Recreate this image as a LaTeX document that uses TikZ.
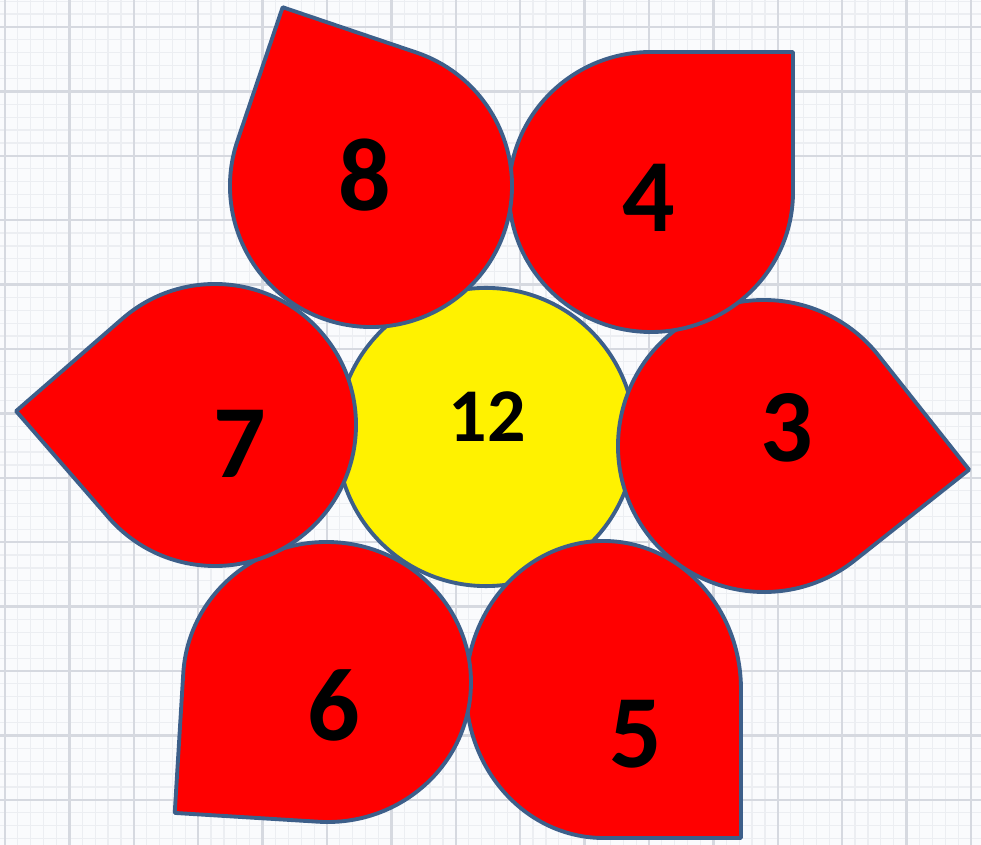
\documentclass[tikz,border=0pt]{standalone}
\usepackage{fontspec}
\setmainfont{Carlito}
\definecolor{edge}{RGB}{61,95,138}
\definecolor{gridmaj}{RGB}{214,217,224}
\definecolor{gridmin}{RGB}{236,238,242}
\definecolor{bg}{RGB}{250,251,253}
\tikzset{
  petalshape/.style={draw=edge, line width=1.1pt, fill=red, line join=round},
  centershape/.style={draw=edge, line width=1.1pt, fill=yellow},
  biglabel/.style={inner sep=0pt, font=\fontsize{29.5}{32}\selectfont\bfseries},
  midlabel/.style={inner sep=0pt, font=\fontsize{21.6}{24}\selectfont\bfseries},
  majorline/.style={draw=gridmaj, line width=0.7pt},
  minorline/.style={draw=gridmin, line width=0.35pt}
}
% #1 cx, #2 cy (screen), #3 local x radius, #4 local y radius, #5 rotation
\newcommand\petalat[5]{%
  \begin{scope}[shift={(#1,{845-#2})}, rotate=#5]
    \draw[petalshape] (0,#4) -- (#3,#4) -- (#3,0)
      arc[start angle=0, end angle=-270, x radius=#3*0.01cm, y radius=#4*0.01cm] -- cycle;
  \end{scope}}
\begin{document}
\begin{tikzpicture}[x=0.01cm, y=0.01cm]
\useasboundingbox (0,0) rectangle (981,845);
\fill[bg] (0,0) rectangle (981,845);
% grid
\foreach \i in {0,...,76} {
  \draw[minorline] ({5+12.88*\i},0) -- ({5+12.88*\i},845);
}
\foreach \i in {-2,...,64} {
  \draw[minorline] (0,{845-(27+12.88*\i)}) -- (981,{845-(27+12.88*\i)});
}
\foreach \i in {0,...,15} {
  \draw[majorline] ({5+64.4*\i},0) -- ({5+64.4*\i},845);
}
\foreach \i in {0,...,12} {
  \draw[majorline] (0,{845-(27+64.4*\i)}) -- (981,{845-(27+64.4*\i)});
}
% centre
\draw[centershape] (486,{845-437}) circle[radius=1.49cm];
% petals
\petalat{764}{446}{146}{146}{-51.6}
\petalat{651}{192}{142}{140}{0}
\petalat{603.5}{689.5}{148.5}{137.5}{-90}
\petalat{327}{682}{144}{140}{176.5}
\petalat{215}{425}{141}{141}{131}
\petalat{371}{186}{141}{141}{71.3}
% labels
\node[midlabel] (c12) at (487,{845-417}) {12};
\node[biglabel] (p3) at (787,{845-428}) {3};
\node[biglabel] (p4) at (649,{845-198}) {4};
\node[biglabel] (p5) at (636,{845-734}) {5};
\node[biglabel] (p6) at (334,{845-705}) {6};
\node[biglabel] (p7) at (240,{845-444}) {7};
\node[biglabel] (p8) at (365,{845-175}) {8};
\end{tikzpicture}
\end{document}
